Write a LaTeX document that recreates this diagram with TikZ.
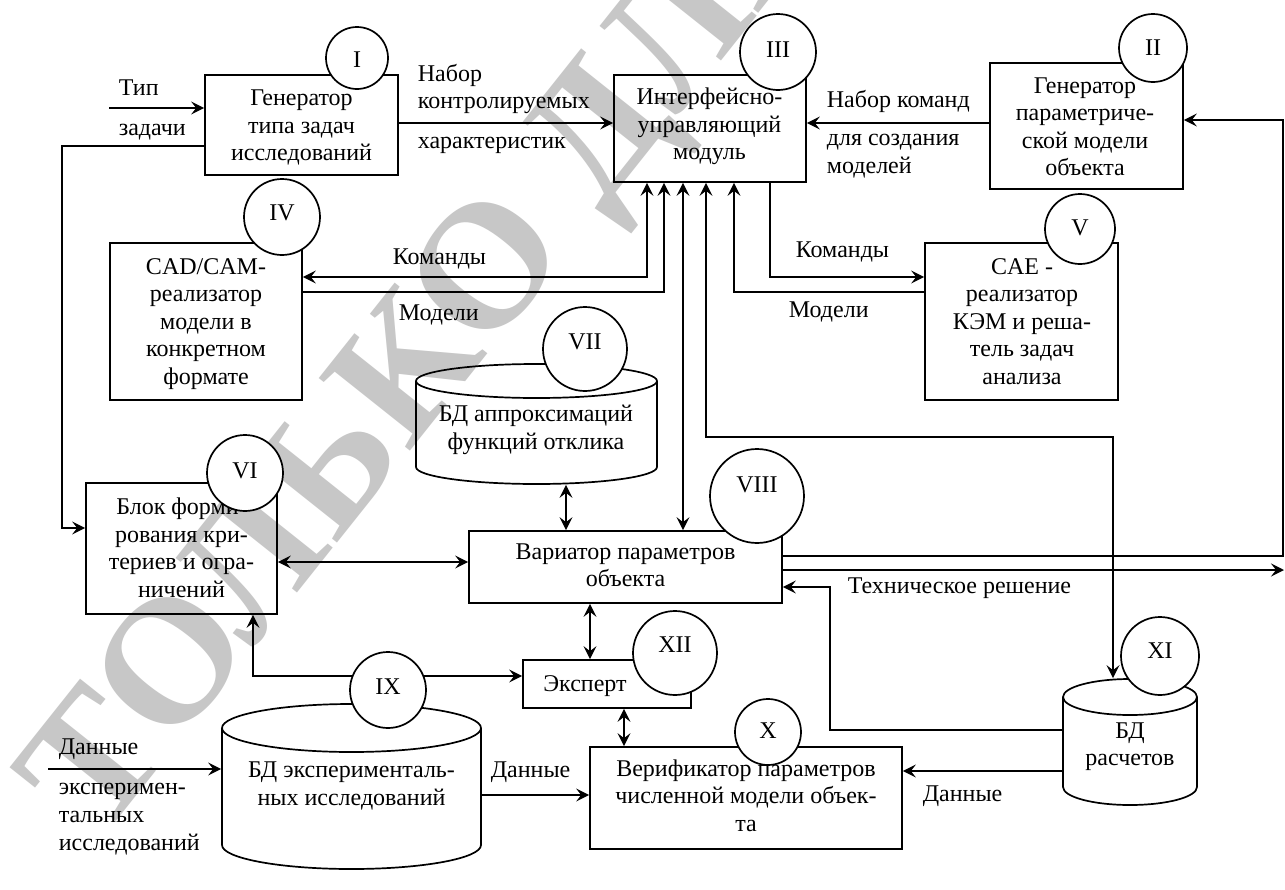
\documentclass[tikz,border=0pt]{standalone}
\usepackage{fontspec}
\setmainfont{Liberation Serif}
\usetikzlibrary{arrows.meta}
\begin{document}
\begin{tikzpicture}[x=1pt,y=-1pt,line width=1.7pt,
  box/.style={draw, rectangle, inner sep=0pt, line width=1.7pt},
  ghost/.style={rectangle, inner sep=0pt, draw=none},
  txt/.style={font=\fontsize{24}{27.5}\selectfont, align=center, inner sep=0pt,
    execute at begin node=\strut, execute at end node=\strut},
  lbl/.style={font=\fontsize{24}{27.5}\selectfont, inner sep=0pt, anchor=base west},
  circ/.style={draw, circle, fill=white, inner sep=0pt, line width=1.7pt},
  num/.style={font=\fontsize{24}{27}\selectfont, inner sep=0pt},
  arr/.style={-{Stealth[length=13pt,width=13pt,inset=5pt]}},
  arrb/.style={{Stealth[length=13pt,width=13pt,inset=5pt]}-{Stealth[length=13pt,width=13pt,inset=5pt]}}]
\useasboundingbox (0,0) rectangle (1285,889);
\fill[white] (0,0) rectangle (1285,889);
% watermark
\begin{scope}
\clip (0,0) rectangle (1285,889);
\node[text=black!22, font=\fontsize{178}{178}\selectfont\bfseries, rotate=51.5, anchor=base west, inner sep=0pt] (wm) at (99,843) {ТОЛЬКО ДЛЯ};
\end{scope}
% boxes
\node[box, minimum width=193pt, minimum height=100pt] (b1) at (301.5,125) {};
\node[box, minimum width=192pt, minimum height=107pt] (b3) at (710,128.5) {};
\node[box, minimum width=193pt, minimum height=126pt] (b2) at (1086.5,126) {};
\node[box, minimum width=192pt, minimum height=157pt] (b4) at (206,321.5) {};
\node[box, minimum width=193pt, minimum height=157pt] (b5) at (1021.5,321.5) {};
\node[box, minimum width=191pt, minimum height=131pt] (b6) at (181.5,548.5) {};
\node[box, minimum width=313pt, minimum height=72pt] (b8) at (625.5,567) {};
\node[box, minimum width=168pt, minimum height=48pt] (bE) at (607,684) {};
\node[box, minimum width=312pt, minimum height=102pt] (b10) at (746,798) {};
% databases (anchor frames + outlines)
\node[ghost, minimum width=241pt, minimum height=120pt] (db7) at (536.5,424) {};
\node[ghost, minimum width=259pt, minimum height=165pt] (db9) at (351.5,786.5) {};
\node[ghost, minimum width=134pt, minimum height=126pt] (db11) at (1130,742) {};
\draw (536.5,381) ellipse [x radius=120.5, y radius=17];
\draw (416,381) -- (416,467) arc[start angle=180, end angle=0, x radius=120.5, y radius=17] -- (657,381);
\draw (351.5,728) ellipse [x radius=129.5, y radius=24];
\draw (222,728) -- (222,845) arc[start angle=180, end angle=0, x radius=129.5, y radius=24] -- (481,728);
\draw (1130,697) ellipse [x radius=67, y radius=18];
\draw (1063,697) -- (1063,787) arc[start angle=180, end angle=0, x radius=67, y radius=18] -- (1197,697);
% texts
\node[txt] (t1) at (301.5,129.5) {Генератор\\типа задач\\исследований};
\node[txt] (t3) at (709.5,128) {Интерфейсно-\\управляющий\\модуль};
\node[txt] (t2) at (1085,131) {Генератор\\параметриче-\\ской модели\\объекта};
\node[txt] (t4) at (206,325.5) {CAD/CAM-\\реализатор\\модели в\\конкретном\\формате};
\node[txt] (t5) at (1022,325.5) {CAE -\\реализатор\\КЭМ и реша-\\тель задач\\анализа};
\node[txt] (t6) at (181.5,552) {Блок форми-\\рования кри-\\териев и огра-\\ничений};
\node[txt] (t8) at (625.5,569.5) {Вариатор параметров\\объекта};
\node[txt] (tE) at (585,685.5) {Эксперт};
\node[txt] (t10) at (746,799.5) {Верификатор параметров\\численной модели объек-\\та};
\node[txt] (t7) at (536,431.5) {БД аппроксимаций\\функций отклика};
\node[txt] (t9) at (351.5,788) {БД эксперименталь-\\ных исследований};
\node[txt] (t11) at (1130,748.5) {БД\\расчетов};
% labels
\node[lbl] (l1) at (118,95) {Тип};
\node[lbl] (l2) at (118,135) {задачи};
\node[lbl] (l3) at (417,81) {Набор};
\node[lbl] (l4) at (417,108) {контролируемых};
\node[lbl] (l5) at (417,148) {характеристик};
\node[lbl] (l6) at (826,107) {Набор команд};
\node[lbl] (l7) at (826,145) {для создания};
\node[lbl] (l8) at (826,173) {моделей};
\node[lbl] (l9) at (392,264) {Команды};
\node[lbl] (l10) at (398,320) {Модели};
\node[lbl] (l11) at (795,257) {Команды};
\node[lbl] (l12) at (788,317) {Модели};
\node[lbl] (l13) at (847,593) {Техническое решение};
\node[lbl] (l14) at (490,777) {Данные};
\node[lbl] (l15) at (922,801) {Данные};
\node[lbl] (l16) at (58,754) {Данные};
\node[lbl] (l17) at (58,794) {эксперимен-};
\node[lbl] (l18) at (58,822) {тальных};
\node[lbl] (l19) at (58,850) {исследований};
% free ends
\coordinate (inT) at (109,108);
\coordinate (inD) at (48,769);
\coordinate (outR) at (1284,570);
\coordinate (pIX) at (388,676);
% connectors
\draw[arr] (inT) -- (inT -| b1.west);
\draw[arr] (b1.west |- 0,146) -- (62,146) -- (62,528) -- (b6.west |- 0,528);
\draw[arr] (b1.east |- 0,123) -- (b3.west |- 0,123);
\draw[arr] (b2.west |- 0,123) -- (b3.east |- 0,123);
\draw[arr] (b8.east |- 0,556) -- (1283,556) -- (1283,120) -- (b2.east |- 0,120);
\draw[arr] (b8.east |- outR) -- (outR);
\draw[arrb] (b3.south -| 647,0) -- (647,277) -- (b4.east |- 0,277);
\draw[arr] (b4.east |- 0,292) -- (664,292) -- (b3.south -| 664,0);
\draw[arrb] (b3.south -| 683,0) -- (b8.north -| 683,0);
\draw[arrb] (b3.south -| 706,0) -- (706,437) -- (1113,437) -- (db11.north -| 1113,0);
\draw[arr] (b3.south -| 770,0) -- (770,277) -- (b5.west |- 0,277);
\draw[arr] (b5.west |- 0,292) -- (734,292) -- (b3.south -| 734,0);
\draw[arrb] (db7.south -| 566,0) -- (b8.north -| 566,0);
\draw[arrb] (b6.east |- 0,562) -- (b8.west |- 0,562);
\draw[arrb] (b8.south -| 590,0) -- (bE.north -| 590,0);
\draw[arrb] (bE.south -| 624,0) -- (b10.north -| 624,0);
\draw[arr] (pIX) -- (253,676) -- (b6.south -| 253,0);
\draw[arr] (pIX) -- (bE.west |- pIX);
\draw[arr] (inD) -- (db9.west |- inD);
\draw[arr] (db9.east |- 0,795) -- (b10.west |- 0,795);
\draw[arr] (db11.west |- 0,730) -- (830,730) -- (830,587) -- (b8.east |- 0,587);
\draw[arr] (db11.west |- 0,771) -- (b10.east |- 0,771);
% circles
\node[circ, minimum size=62pt] (cI) at (357,58) {};
\node[circ, minimum size=68pt] (cII) at (1153,48) {};
\node[circ, minimum size=76pt] (cIII) at (778,52) {};
\node[circ, minimum size=76pt] (cIV) at (282,217) {};
\node[circ, minimum size=70pt] (cV) at (1080,229) {};
\node[circ, minimum size=76pt] (cVI) at (245,473) {};
\node[circ, minimum size=84pt] (cVII) at (585,349) {};
\node[circ, minimum size=94pt] (cVIII) at (757,496) {};
\node[circ, minimum size=76pt] (cIX) at (388,690) {};
\node[circ, minimum size=66pt] (cX) at (768,732) {};
\node[circ, minimum size=78pt] (cXI) at (1160,656) {};
\node[circ, minimum size=84pt] (cXII) at (675,653) {};
\node[num] (nI) at (357,60) {I};
\node[num] (nII) at (1153,47.5) {II};
\node[num] (nIII) at (778,49.5) {III};
\node[num] (nIV) at (282,213) {IV};
\node[num] (nV) at (1080,227.5) {V};
\node[num] (nVI) at (245,471) {VI};
\node[num] (nVII) at (585,342) {VII};
\node[num] (nVIII) at (757,485) {VIII};
\node[num] (nIX) at (388,687) {IX};
\node[num] (nX) at (768,731) {X};
\node[num] (nXI) at (1160,651) {XI};
\node[num] (nXII) at (675,645) {XII};
\end{tikzpicture}
\end{document}
